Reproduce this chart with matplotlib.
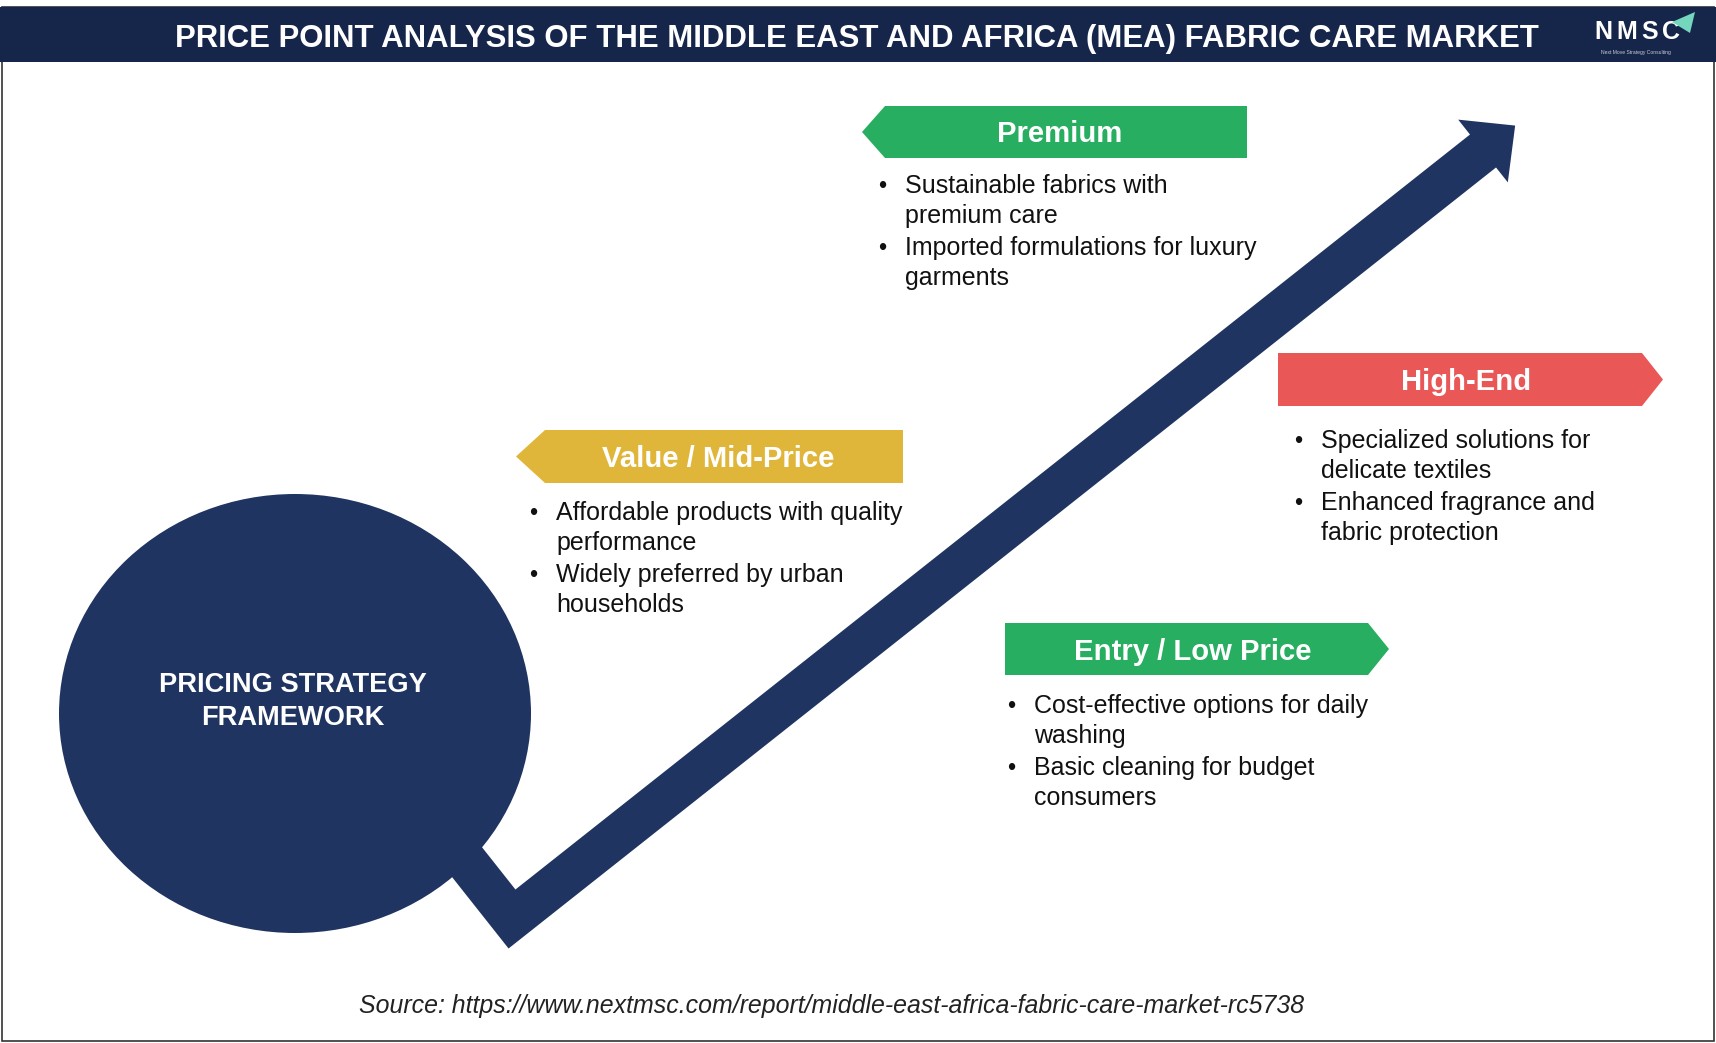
import numpy as np
import matplotlib
matplotlib.use("Agg")
import matplotlib.pyplot as plt
from matplotlib.patches import Polygon, Rectangle, Ellipse

plt.rcParams['font.family'] = ['Liberation Sans', 'DejaVu Sans']

# ---- text content ----
title = "PRICE POINT ANALYSIS OF THE MIDDLE EAST AND AFRICA (MEA) FABRIC CARE MARKET"
center_label = ["PRICING STRATEGY", "FRAMEWORK"]
source = "Source: https://www.nextmsc.com/report/middle-east-africa-fabric-care-market-rc5738"
logo_letters = ["N", "M", "S", "C"]

tier_names = ["Premium", "Value / Mid-Price", "High-End", "Entry / Low Price"]
tier_colors = ["#27ae60", "#e0b63a", "#ea5757", "#27ae60"]
tier_bullets = [
    [["Sustainable fabrics with", "premium care"],
     ["Imported formulations for luxury", "garments"]],
    [["Affordable products with quality", "performance"],
     ["Widely preferred by urban", "households"]],
    [["Specialized solutions for", "delicate textiles"],
     ["Enhanced fragrance and", "fabric protection"]],
    [["Cost-effective options for daily", "washing"],
     ["Basic cleaning for budget", "consumers"]],
]

# banner layout: (left, top, right, bottom), pointing side, tip depth, bullet x, first baseline
tier_boxes = [(885, 106, 1247, 158), (545, 430, 903, 483),
              (1278, 353, 1642, 406), (1005, 623, 1368, 675)]
tier_point = [-1, -1, 1, 1]
tier_tip = [23, 29, 21, 21]
tier_bullet_x = [882, 533, 1298, 1011]
tier_first_base = [193, 520, 448, 713]

NAVY_HEAD = "#16254a"
NAVY = "#1f3461"

W, H = 1716, 1043
fig = plt.figure(figsize=(W / 100, H / 100), dpi=100)
ax = fig.add_axes([0, 0, 1, 1])
ax.set_xlim(0, W)
ax.set_ylim(H, 0)
ax.axis('off')

# frame and header
ax.add_patch(Rectangle((2, 7), W - 4, H - 9, facecolor='white',
                       edgecolor='#333333', lw=1.2, zorder=0))
ax.add_patch(Rectangle((0, 7), W, 55, facecolor=NAVY_HEAD, edgecolor='none', zorder=1))
ax.text(857, 47, title, color='white', fontsize=22.4, fontweight='bold',
        ha='center', va='baseline', zorder=2)

# logo
for letter, lx in zip(logo_letters, [1594, 1616, 1641, 1662]):
    ax.text(lx, 39, letter, color='white', fontsize=18, fontweight='bold',
            ha='left', va='baseline', zorder=2)
ax.text(1636, 54, "Next Move Strategy Consulting", color='#c9ced8', fontsize=3.6,
        ha='center', va='baseline', zorder=2)
ax.add_patch(Polygon([(1672, 22), (1695, 12), (1690, 33)], closed=True,
                     facecolor='#74d6bd', edgecolor='none', zorder=2))

# circle
ax.add_patch(Ellipse((295, 713.5), 472, 439, facecolor=NAVY, edgecolor='none', zorder=3))
ax.text(293, 692, center_label[0], color='white', fontsize=19.6, fontweight='bold',
        ha='center', va='baseline', zorder=5)
ax.text(293, 725, center_label[1], color='white', fontsize=19.6, fontweight='bold',
        ha='center', va='baseline', zorder=5)

# bent arrow
bend = np.array([512.0, 919.0])
head_base = np.array([1483.0, 151.0])
d2 = (head_base - bend) / np.linalg.norm(head_base - bend)
d1 = np.array([d2[1], -d2[0]])  # perpendicular, up-left
hw, wing, head_len, arm = 21, 40, 41, 130
start = bend + arm * d1
pts = [start - hw * d2,
       bend - hw * d1 - hw * d2,
       head_base - hw * d1,
       head_base - wing * d1,
       head_base + head_len * d2,
       head_base + wing * d1,
       head_base + hw * d1,
       bend + hw * d1 + hw * d2,
       start + hw * d2]
ax.add_patch(Polygon(pts, closed=True, facecolor=NAVY, edgecolor='none', zorder=4))

# tier banners and bullets
for name, col, box, pt, tip, bx, base, bullets in zip(tier_names, tier_colors, tier_boxes,
                                                       tier_point, tier_tip, tier_bullet_x,
                                                       tier_first_base, tier_bullets):
    l, t, r, b = box
    mid = (t + b) / 2
    if pt < 0:
        shape = [(l - tip, mid), (l, t), (r, t), (r, b), (l, b)]
    else:
        shape = [(l, t), (r, t), (r + tip, mid), (r, b), (l, b)]
    ax.add_patch(Polygon(shape, closed=True, facecolor=col, edgecolor='none', zorder=6))
    ax.text((l + r) / 2 + 6 * pt, mid + 10.5, name, color='white', fontsize=21.1,
            fontweight='bold', ha='center', va='baseline', zorder=7)
    y = base
    for item in bullets:
        ax.text(bx, y, "\u2022", color='#111111', fontsize=17, ha='center',
                va='baseline', zorder=7)
        for line in item:
            ax.text(bx + 23, y, line, color='#111111', fontsize=18,
                    ha='left', va='baseline', zorder=7)
            y += 30
        y += 2

# source
ax.text(832, 1013, source, color='#222222', fontsize=17.9, fontstyle='italic',
        ha='center', va='baseline', zorder=7)

fig.savefig("out.png", dpi=100)
